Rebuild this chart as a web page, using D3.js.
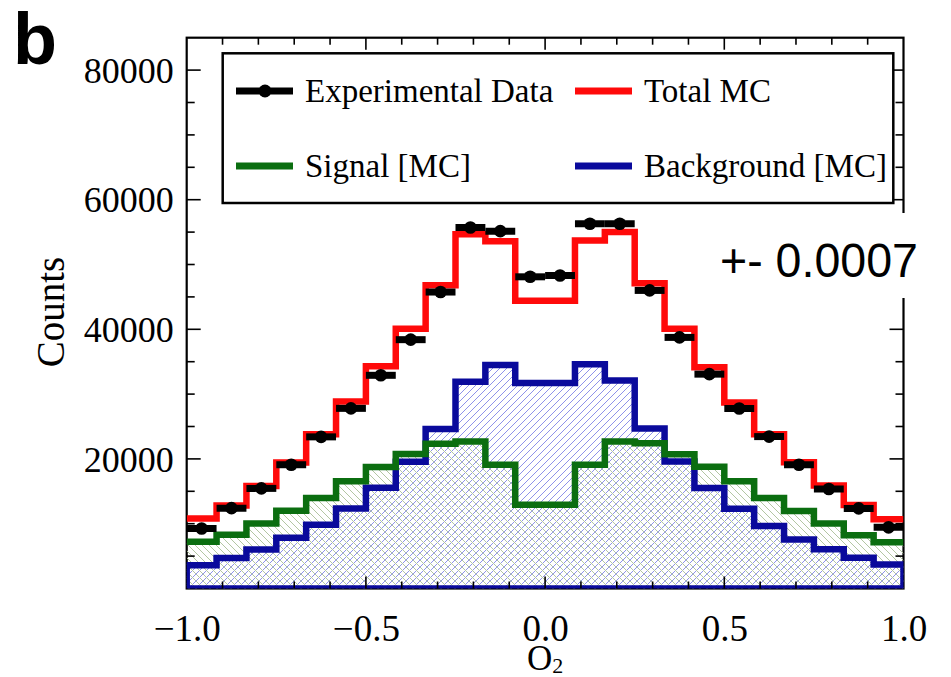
<!DOCTYPE html>
<html>
<head>
<meta charset="utf-8">
<script src="https://cdn.jsdelivr.net/npm/d3@7"></script>
<style>
  body { margin: 0; background: #fff; }
  svg { display: block; }
</style>
</head>
<body>
<svg id="chart" width="951" height="677"></svg>
<script>
// ---- data: 24 bins of O2 over [-1, 1] ----
const binCount = 24;
const xDomain = [-1, 1];
const background = [3600, 4720, 6000, 7850, 9850, 12350, 15550, 19550, 24600, 31900, 34500, 31700,
                    31700, 34600, 32100, 24700, 19600, 15500, 12300, 9650, 7550, 6050, 4750, 3700];
const signal = [7200, 8300, 10050, 12000, 13950, 16550, 18750, 20770, 22350, 22670, 19080, 12920,
                12920, 19080, 22670, 22400, 20700, 18800, 16550, 13950, 11950, 10050, 8200, 7130];
const totalMC = [10800, 12800, 15800, 19450, 23800, 28850, 34300, 40100, 46800, 54650, 53600, 44400,
                 44400, 53700, 55000, 47100, 40100, 34150, 28700, 23800, 19500, 15900, 12900, 10700];
const experimental = [9250, 12400, 15450, 19100, 23400, 27800, 32900, 38400, 45750, 55700, 55150, 48100,
                      48300, 56300, 56300, 46000, 38750, 33080, 27780, 23440, 19100, 15360, 12360, 9440];
const xTickValues = [-1, -0.5, 0, 0.5, 1];
const yTickValues = [20000, 40000, 60000, 80000];
const legendLabels = ["Experimental Data", "Total MC", "Signal [MC]", "Background [MC]"];
const panelLabel = "b";
const annotation = "+- 0.0007";

const colors = { data: "#000000", total: "#ff0a0a", signal: "#0b6e10", background: "#0a0a9c" };

// ---- layout ----
const svg = d3.select("#chart");
const plot = { left: 186.7, right: 903.5, top: 37.7, bottom: 588.5 };
const x = d3.scaleLinear().domain(xDomain).range([plot.left, plot.right]);
const y = d3.scaleLinear().domain([0, 85000]).range([plot.bottom, plot.top]);
const binWidth = (xDomain[1] - xDomain[0]) / binCount;
const edge = i => xDomain[0] + i * binWidth;

// step points: one per lower edge, plus the closing upper edge
const stepPoints = vals => vals.map((v, i) => [edge(i), v]).concat([[xDomain[1], vals[vals.length - 1]]]);

const defs = svg.append("defs");
defs.append("clipPath").attr("id", "plotClip")
  .append("rect").attr("x", plot.left).attr("y", plot.top)
  .attr("width", plot.right - plot.left).attr("height", plot.bottom - plot.top);

// hatch fills: background "/" , signal "\"
const hs = 7;
const bgPat = defs.append("pattern").attr("id", "hatchBg")
  .attr("patternUnits", "userSpaceOnUse").attr("width", hs).attr("height", hs);
bgPat.append("path").attr("d", `M-1,1 L1,-1 M0,${hs} L${hs},0 M${hs - 1},${hs + 1} L${hs + 1},${hs - 1}`)
  .attr("stroke", "#8e92ea").attr("stroke-width", 1).attr("fill", "none");
const sgPat = defs.append("pattern").attr("id", "hatchSig")
  .attr("patternUnits", "userSpaceOnUse").attr("width", hs).attr("height", hs);
sgPat.append("path").attr("d", `M-1,${hs - 1} L1,${hs + 1} M0,0 L${hs},${hs} M${hs - 1},-1 L${hs + 1},1`)
  .attr("stroke", "#b3c6a2").attr("stroke-width", 1).attr("fill", "none");

// frame
svg.append("rect").attr("x", plot.left).attr("y", plot.top)
  .attr("width", plot.right - plot.left).attr("height", plot.bottom - plot.top)
  .attr("fill", "#fff").attr("stroke", "#000").attr("stroke-width", 2.2);

const g = svg.append("g").attr("clip-path", "url(#plotClip)");

const area = d3.area().curve(d3.curveStepAfter)
  .x(d => x(d[0])).y0(y(0)).y1(d => y(d[1]));
const line = d3.line().curve(d3.curveStepAfter)
  .x(d => x(d[0])).y(d => y(d[1]));

g.append("path").attr("d", area(stepPoints(background))).attr("fill", "url(#hatchBg)");
g.append("path").attr("d", area(stepPoints(signal))).attr("fill", "url(#hatchSig)");

// background outline closed down to the baseline
const bgOutline = [[xDomain[0], 0]].concat(stepPoints(background)).concat([[xDomain[1], 0]]);
g.append("path").attr("d", line(bgOutline) + "Z")
  .attr("fill", "none").attr("stroke", colors.background).attr("stroke-width", 6.5);
g.append("path").attr("d", line(stepPoints(signal)))
  .attr("fill", "none").attr("stroke", colors.signal).attr("stroke-width", 6.5);
g.append("path").attr("d", line(stepPoints(totalMC)))
  .attr("fill", "none").attr("stroke", colors.total).attr("stroke-width", 6.5);

// experimental points: horizontal bin-width bars with round markers
const pts = g.append("g");
experimental.forEach((v, i) => {
  pts.append("line").attr("x1", x(edge(i))).attr("x2", x(edge(i + 1)))
    .attr("y1", y(v)).attr("y2", y(v)).attr("stroke", colors.data).attr("stroke-width", 7);
  pts.append("circle").attr("cx", x(edge(i) + binWidth / 2)).attr("cy", y(v))
    .attr("r", 6.3).attr("fill", colors.data);
});

// ---- ticks (inward, on all four sides) ----
const ticks = svg.append("g").attr("stroke", "#000").attr("stroke-width", 1.6);
d3.range(-9, 10).forEach(k => {
  const xv = k / 10, major = k % 5 === 0, len = major ? 12 : 7;
  ticks.append("line").attr("x1", x(xv)).attr("x2", x(xv)).attr("y1", plot.bottom).attr("y2", plot.bottom - len);
  ticks.append("line").attr("x1", x(xv)).attr("x2", x(xv)).attr("y1", plot.top).attr("y2", plot.top + len);
});
d3.range(1, 17).forEach(k => {
  const yv = k * 5000, major = yv % 20000 === 0, len = major ? 14 : 8;
  ticks.append("line").attr("x1", plot.left).attr("x2", plot.left + len).attr("y1", y(yv)).attr("y2", y(yv));
  ticks.append("line").attr("x1", plot.right).attr("x2", plot.right - len).attr("y1", y(yv)).attr("y2", y(yv));
});

// ---- axis labels ----
const serif = "'Liberation Serif', 'Times New Roman', serif";
const xAxis = d3.axisBottom(x).tickValues(xTickValues).tickFormat(d3.format(".1f")).tickSize(0).tickPadding(0);
const xa = svg.append("g").attr("transform", `translate(0,${plot.bottom})`).call(xAxis);
xa.select(".domain").remove();
xa.selectAll("text").attr("font-family", serif).attr("font-size", 37).attr("fill", "#000")
  .attr("dy", null).attr("y", 52.5);

const yAxis = d3.axisLeft(y).tickValues(yTickValues).tickFormat(d3.format("d")).tickSize(0).tickPadding(0);
const ya = svg.append("g").attr("transform", `translate(${plot.left - 13},0)`).call(yAxis);
ya.select(".domain").remove();
ya.selectAll("text").attr("font-family", serif).attr("font-size", 36).attr("fill", "#000")
  .attr("dy", "0.34em");

svg.append("text").attr("transform", `translate(64,312) rotate(-90)`)
  .attr("text-anchor", "middle").attr("font-family", serif).attr("font-size", 39).text("Counts");

const xt = svg.append("text").attr("x", x(0)).attr("y", 670).attr("text-anchor", "middle")
  .attr("font-family", serif).attr("font-size", 35);
xt.append("tspan").text("O");
xt.append("tspan").attr("font-size", 22).attr("dy", 3).text("2");

// ---- legend ----
const lg = svg.append("g");
lg.append("rect").attr("x", 222.7).attr("y", 53.3).attr("width", 670.6).attr("height", 149.7)
  .attr("fill", "#fff").attr("stroke", "#000").attr("stroke-width", 2.5);
const legendItems = [
  { label: legendLabels[0], color: colors.data, marker: true, lx: 236, ly: 91 },
  { label: legendLabels[1], color: colors.total, marker: false, lx: 575, ly: 91 },
  { label: legendLabels[2], color: colors.signal, marker: false, lx: 236, ly: 166 },
  { label: legendLabels[3], color: colors.background, marker: false, lx: 575, ly: 166 }
];
legendItems.forEach(it => {
  lg.append("line").attr("x1", it.lx).attr("x2", it.lx + 57).attr("y1", it.ly).attr("y2", it.ly)
    .attr("stroke", it.color).attr("stroke-width", 7);
  if (it.marker) lg.append("circle").attr("cx", it.lx + 29).attr("cy", it.ly).attr("r", 6.5).attr("fill", it.color);
  lg.append("text").attr("x", it.lx + 69).attr("y", it.ly + 11).attr("font-family", serif)
    .attr("font-size", 33).attr("fill", "#000").text(it.label);
});

// ---- panel letter and annotation ----
svg.append("text").attr("x", 13).attr("y", 64).attr("font-family", "'Liberation Sans', Arial, sans-serif")
  .attr("font-weight", "bold").attr("font-size", 72).text(panelLabel);

svg.append("rect").attr("x", 712).attr("y", 213).attr("width", 239).attr("height", 85).attr("fill", "#fff");
svg.append("text").attr("x", 720).attr("y", 277).attr("font-family", "'Liberation Sans', Arial, sans-serif")
  .attr("font-size", 49).attr("fill", "#000")
  .attr("textLength", 198).attr("lengthAdjust", "spacingAndGlyphs").text(annotation);
</script>
</body>
</html>
